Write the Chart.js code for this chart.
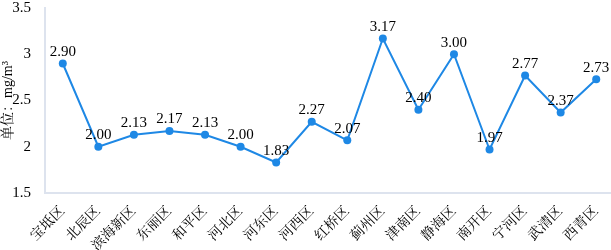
<!DOCTYPE html>
<html>
<head>
<meta charset="utf-8">
<script src="https://cdn.jsdelivr.net/npm/chart.js@4/dist/chart.umd.min.js"></script>
<style>
  html, body { margin: 0; padding: 0; background: #fff; }
  #wrap { width: 611px; height: 250px; }
</style>
</head>
<body>
<div id="wrap"><canvas id="chart"></canvas></div>
<script>
const districts = ["宝坻区", "北辰区", "滨海新区", "东丽区", "和平区", "河北区", "河东区", "河西区",
  "红桥区", "蓟州区", "津南区", "静海区", "南开区", "宁河区", "武清区", "西青区"];
const values = [2.90, 2.00, 2.13, 2.17, 2.13, 2.00, 1.83, 2.27, 2.07, 3.17, 2.40, 3.00, 1.97, 2.77, 2.37, 2.73];
const yTitle = "单位：mg/m³";

const serif = "'Liberation Serif', 'Times New Roman', 'Noto Serif CJK SC', 'Noto Sans CJK SC', serif";
const blue = "#1e88e5";
const axisColor = "#dde3ee";

// value labels above each point
const valueLabels = {
  id: "valueLabels",
  afterDatasetsDraw(chart) {
    const ctx = chart.ctx;
    const meta = chart.getDatasetMeta(0);
    ctx.save();
    ctx.font = "15px " + serif;
    ctx.fillStyle = "#000";
    ctx.textAlign = "center";
    ctx.textBaseline = "bottom";
    meta.data.forEach((pt, i) => {
      ctx.fillText(values[i].toFixed(2), pt.x, pt.y - 4);
    });
    ctx.restore();
  },
};

// the x axis in the original runs a little past the right edge
const stretchX = {
  id: "stretchX",
  afterLayout(chart) {
    const x = chart.scales.x;
    x.right += 7;
    x.width += 7;
    x.configure();
  },
};

new Chart(document.querySelector("#chart").getContext("2d"), {
  type: "line",
  data: {
    labels: districts,
    datasets: [{
      data: values,
      borderColor: blue,
      backgroundColor: blue,
      borderWidth: 2,
      pointRadius: 4,
      pointBackgroundColor: blue,
      pointBorderWidth: 0,
      tension: 0,
      clip: false,
    }],
  },
  options: {
    responsive: true,
    maintainAspectRatio: false,
    animation: false,
    layout: { padding: { top: 8, right: 0, left: 0, bottom: 0 } },
    plugins: {
      legend: { display: false },
      tooltip: { enabled: false },
    },
    scales: {
      x: {
        offset: true,
        grid: { display: false },
        border: { display: true, color: axisColor, width: 2 },
        ticks: {
          color: "#000",
          font: { family: serif, size: 14 },
          maxRotation: 45,
          minRotation: 45,
          autoSkip: false,
          padding: 2,
        },
        afterFit(scale) { scale.height = 57; },
      },
      y: {
        min: 1.5,
        max: 3.5,
        grid: { display: false },
        border: { display: true, color: axisColor, width: 2 },
        ticks: {
          stepSize: 0.5,
          color: "#000",
          font: { family: serif, size: 15 },
          padding: 6,
          callback: (v) => String(v),
        },
        title: {
          display: true,
          text: yTitle,
          color: "#000",
          font: { family: serif, size: 14 },
          padding: { top: 0, bottom: 0 },
        },
        afterFit(scale) {
          scale.width = 45;
          scale.paddingTop = 0;
        },
      },
    },
  },
  plugins: [valueLabels, stretchX],
});
</script>
</body>
</html>
